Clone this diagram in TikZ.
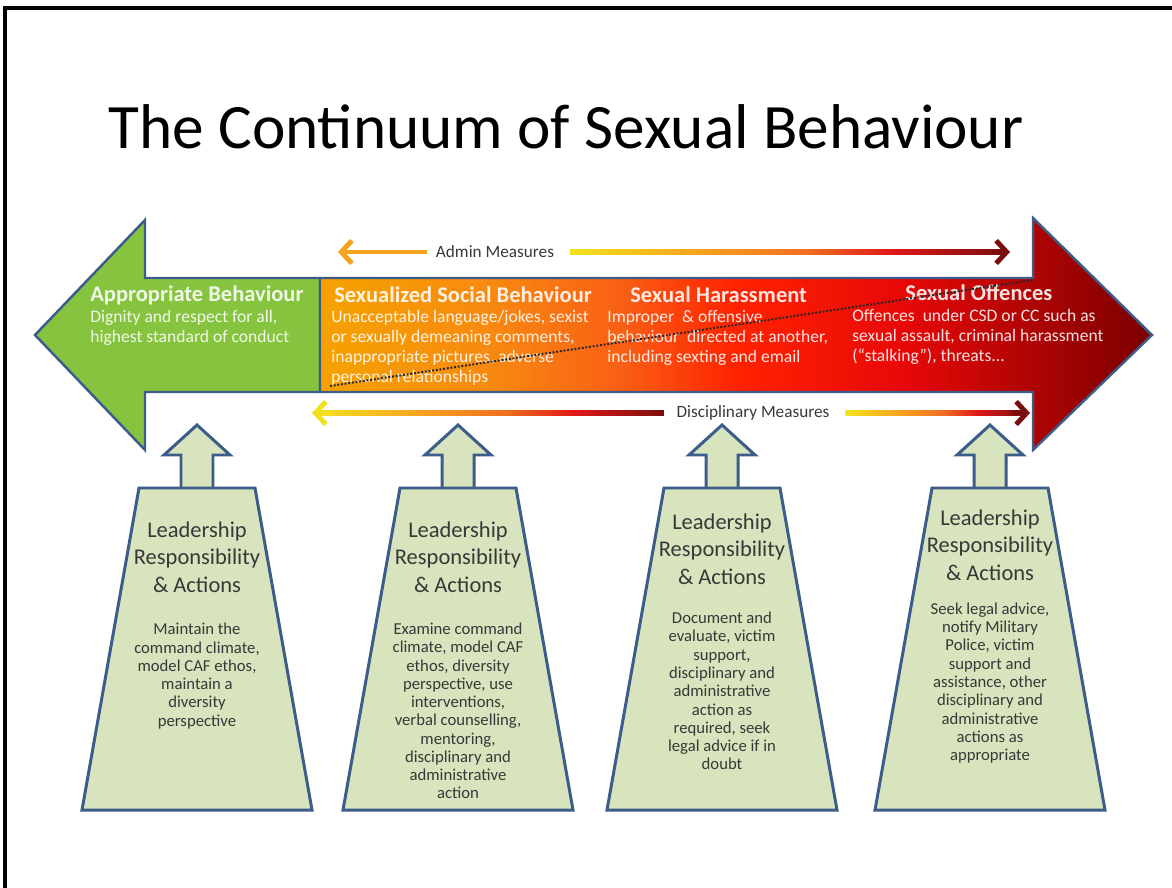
\documentclass[tikz,border=0pt]{standalone}
\usepackage{fontspec}
\setmainfont{Carlito}
\usetikzlibrary{arrows.meta}
\definecolor{edgeblue}{RGB}{60,92,138}
\definecolor{leafgreen}{RGB}{134,196,64}
\definecolor{sage}{RGB}{215,228,189}
\definecolor{amber}{RGB}{245,162,30}
\definecolor{lemon}{RGB}{242,226,30}
\definecolor{maroon}{RGB}{122,14,14}
\definecolor{inkgray}{RGB}{56,56,56}
\definecolor{contA}{RGB}{246,162,0}
\definecolor{contB}{RGB}{247,138,16}
\definecolor{contC}{RGB}{249,96,21}
\definecolor{contD}{RGB}{255,34,0}
\definecolor{contE}{RGB}{232,8,8}
\definecolor{contF}{RGB}{122,0,0}
\definecolor{warmC}{RGB}{240,112,32}
\definecolor{warmD}{RGB}{224,24,24}
\pgfdeclarehorizontalshading{continuum}{100bp}{color(0bp)=(contA); color(25bp)=(contA); color(35bp)=(contB); color(43bp)=(contC); color(50bp)=(contD); color(60bp)=(contE); color(75bp)=(contF); color(100bp)=(contF)}
\pgfdeclarehorizontalshading{warmline}{100bp}{color(0bp)=(lemon); color(25bp)=(lemon); color(40bp)=(amber); color(52bp)=(warmC); color(62bp)=(warmD); color(75bp)=(maroon); color(100bp)=(maroon)}

\begin{document}
\begin{tikzpicture}[x=0.02cm,y=-0.02cm]
  \tikzstyle{plate}=[draw=edgeblue,line width=1.4pt]
  \tikzstyle{pillar}=[draw=edgeblue,fill=sage,line width=1.7pt]
  \tikzstyle{bighead}=[text=white,text opacity=0.88,font=\bfseries\fontsize{12.8}{15}\selectfont,inner sep=0pt,anchor=west]
  \tikzstyle{bigtext}=[text=white,text opacity=0.88,font=\fontsize{10}{11.3}\selectfont,inner sep=0pt,anchor=west,align=left]
  \tikzstyle{measure}=[line width=2.8pt,-{Straight Barb[length=6pt,width=13pt]}]
  \tikzstyle{gauge}=[text=inkgray,font=\fontsize{9.8}{11}\selectfont,inner sep=3pt]
  \tikzstyle{lead}=[text=inkgray,font=\fontsize{12.8}{15.6}\selectfont,align=center]
  \tikzstyle{act}=[text=inkgray,font=\fontsize{9.5}{10.4}\selectfont,align=center]

  \useasboundingbox (0,0) rectangle (1172,888);
  % frame
  \draw[line width=2.3pt] (5,888) -- (5,8) -- (1172,8);
  \node[font=\fontsize{36}{40}\selectfont,anchor=base] (title) at (566,149) {The Continuum of Sexual Behaviour};

  % the continuum arrow
  \draw[plate,fill=leafgreen] (320,278) -- (145,278) -- (145,220) -- (35,335) -- (145,450) -- (145,392) -- (320,392) -- cycle;
  \shadedraw[plate,shading=continuum] (320,278) -- (1033,278) -- (1033,218) -- (1152,335) -- (1033,450) -- (1033,392) -- (320,392) -- cycle;

  \node[bighead] (apprHead) at (90,295) {Appropriate Behaviour};
  \node[bigtext] (apprTxt) at (90,328) {Dignity and respect for all,\\highest standard of conduct};
  \node[bighead] (sexsocHead) at (334,295) {Sexualized Social Behaviour};
  \node[bigtext] (sexsocTxt) at (331,348) {Unacceptable language/jokes, sexist\\or sexually demeaning comments,\\inappropriate pictures, adverse\\personal relationships};
  \node[bighead] (harHead) at (630,295) {Sexual Harassment};
  \node[bigtext] (harTxt) at (607,338) {Improper \ \& offensive\\behaviour \ directed at another,\\including sexting and email};
  \node[bighead] (offHead) at (905,293) {Sexual Offences};
  \node[bigtext] (offTxt) at (852,337) {Offences \ under CSD or CC such as\\sexual assault, criminal harassment\\(“stalking”), threats...};

  \coordinate (trendLow) at (330,386);
  \coordinate (trendHigh) at (1033,280);
  \draw[densely dotted,line width=1.1pt,black!85] (trendLow) -- (trendHigh);

  % measures
  \node[gauge] (admin) at (495,252) {Admin Measures};
  \coordinate (adminL) at (338,252);
  \coordinate (adminR) at (1010,252);
  \draw[measure,amber,shorten <=2pt] (admin.west) -- (adminL);
  \shade[shading=warmline] ([xshift=6pt,yshift=-1.4pt]admin.east) rectangle ([xshift=-3pt,yshift=1.4pt]adminR);
  \draw[measure,maroon] ([xshift=-10pt]adminR) -- (adminR);

  \node[gauge] (disc) at (753,413) {Disciplinary Measures};
  \coordinate (discL) at (312,413);
  \coordinate (discR) at (1030,413);
  \shade[shading=warmline] ([xshift=3pt,yshift=-1.4pt]discL) rectangle ([xshift=-4pt,yshift=1.4pt]disc.west);
  \draw[measure,lemon] ([xshift=10pt]discL) -- (discL);
  \shade[shading=warmline] ([xshift=6pt,yshift=-1.4pt]disc.east) rectangle ([xshift=-3pt,yshift=1.4pt]discR);
  \draw[measure,maroon] ([xshift=-10pt]discR) -- (discR);

  % leadership pillars
  \foreach \cx/\nm/\hy in {197/a/557,458/b/557,722/c/549,990/d/545}{
    \draw[pillar] (\cx-16,488) -- (\cx-16,455) -- (\cx-33,455) -- (\cx,425) -- (\cx+33,455) -- (\cx+16,455) -- (\cx+16,488);
    \draw[pillar] (\cx-58,488) -- (\cx+58,488) -- (\cx+115,810) -- (\cx-115,810) -- cycle;
    \node[lead] (lead\nm) at (\cx,\hy) {Leadership\\Responsibility\\\& Actions};
  }
  \node[act] (acta) at (197,676) {Maintain the\\command climate,\\model CAF ethos,\\maintain a\\diversity\\perspective};
  \node[act] (actb) at (458,711) {Examine command\\climate, model CAF\\ethos, diversity\\perspective, use\\interventions,\\verbal counselling,\\mentoring,\\disciplinary and\\administrative\\action};
  \node[act] (actc) at (722,691) {Document and\\evaluate, victim\\support,\\disciplinary and\\administrative\\action as\\required, seek\\legal advice if in\\doubt};
  \node[act] (actd) at (990,683) {Seek legal advice,\\notify Military\\Police, victim\\support and\\assistance, other\\disciplinary and\\administrative\\actions as\\appropriate};
\end{tikzpicture}
\end{document}
